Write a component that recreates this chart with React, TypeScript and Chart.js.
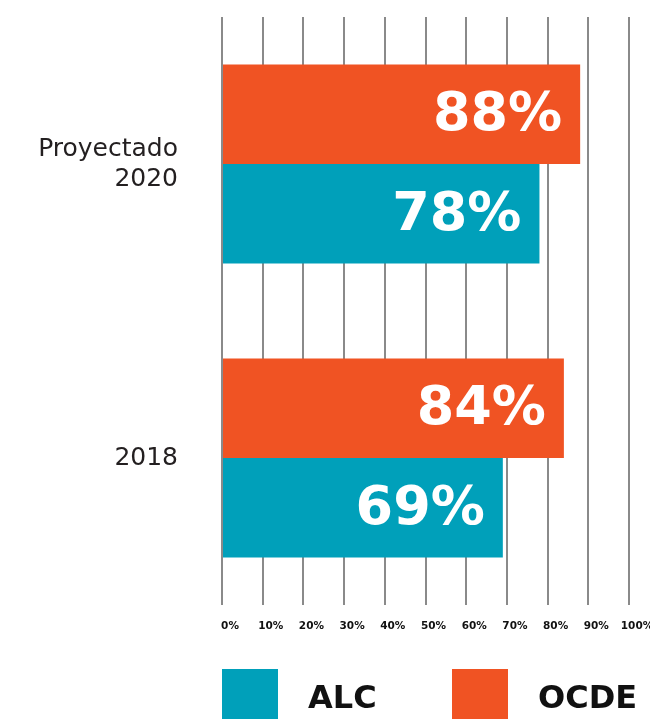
import React, { useEffect, useRef } from "react";
import { Chart, registerables } from "chart.js";

Chart.register(...registerables);

const categories: (string | string[])[] = [["Proyectado", "2020"], "2018"];
const ocdeValues = [88, 84];
const alcValues = [78, 69];
const xTicks = [0, 10, 20, 30, 40, 50, 60, 70, 80, 90, 100];
const legendOrder = ["ALC", "OCDE"];

const ORANGE = "#F05323";
const TEAL = "#00A0BA";
const FONT = "'DejaVu Sans', sans-serif";

const zeroPad = (scale: any) => {
  scale.paddingTop = 0;
  scale.paddingBottom = 0;
  scale.paddingLeft = 0;
  scale.paddingRight = 0;
};

const valueLabels = {
  id: "valueLabels",
  afterDatasetsDraw(chart: any) {
    const ctx = chart.ctx;
    ctx.save();
    ctx.fillStyle = "#ffffff";
    ctx.font = `bold 54px ${FONT}`;
    ctx.textAlign = "right";
    ctx.textBaseline = "middle";
    chart.data.datasets.forEach((ds: any, di: number) => {
      const meta = chart.getDatasetMeta(di);
      meta.data.forEach((bar: any, i: number) => {
        ctx.fillText(ds.data[i] + "%", bar.x - 18, bar.y + 2);
      });
    });
    ctx.restore();
  },
};

const customLegend = {
  id: "customLegend",
  afterDraw(chart: any) {
    const ctx = chart.ctx;
    const area = chart.chartArea;
    ctx.save();
    const top = area.bottom + 64;
    legendOrder.forEach((name, k) => {
      const ds = chart.data.datasets.find((d: any) => d.label === name);
      const x0 = area.left + k * 230;
      ctx.fillStyle = ds.backgroundColor;
      ctx.fillRect(x0, top, 56, 60);
      ctx.fillStyle = "#111111";
      ctx.font = `bold 32px ${FONT}`;
      ctx.textAlign = "left";
      ctx.textBaseline = "middle";
      ctx.fillText(name, x0 + 86, top + 31);
    });
    ctx.restore();
  },
};

export default function App() {
  const ref = useRef<HTMLCanvasElement>(null);
  useEffect(() => {
    if (!ref.current) return;
    const chart = new Chart(ref.current, {
      type: "bar",
      data: {
        labels: categories as any,
        datasets: [
          { label: "OCDE", data: ocdeValues, backgroundColor: ORANGE },
          { label: "ALC", data: alcValues, backgroundColor: TEAL },
        ],
      },
      options: {
        indexAxis: "y",
        animation: false,
        responsive: false,
        maintainAspectRatio: false,
        layout: { padding: { top: 17, right: 21, left: 0, bottom: 0 } },
        datasets: { bar: { barPercentage: 1, categoryPercentage: 0.677 } } as any,
        plugins: { legend: { display: false }, tooltip: { enabled: false } },
        scales: {
          x: {
            min: 0,
            max: 100,
            afterBuildTicks: (scale: any) => {
              scale.ticks = xTicks.map((v) => ({ value: v }));
            },
            afterFit: (scale: any) => {
              scale.height = 114;
              zeroPad(scale);
            },
            grid: { color: "#8a8a8a", lineWidth: 2, drawTicks: false },
            border: { display: false },
            ticks: {
              padding: 15,
              labelOffset: 8,
              color: "#111111",
              font: { family: FONT, weight: "bold", size: 10.5 },
              callback: (v: any) => v + "%",
            },
          },
          y: {
            afterFit: (scale: any) => {
              scale.width = 222;
              zeroPad(scale);
            },
            grid: { display: false },
            border: { display: false },
            ticks: {
              padding: 36,
              color: "#231f20",
              font: { family: FONT, size: 25, lineHeight: 1.2 },
            },
          },
        },
      },
      plugins: [valueLabels, customLegend],
    });
    return () => chart.destroy();
  }, []);
  return (
    <div style={{ position: "fixed", left: 0, top: 0, width: 650, height: 719, background: "#fff" }}>
      <canvas ref={ref} width={650} height={719} style={{ display: "block" }} />
    </div>
  );
}
